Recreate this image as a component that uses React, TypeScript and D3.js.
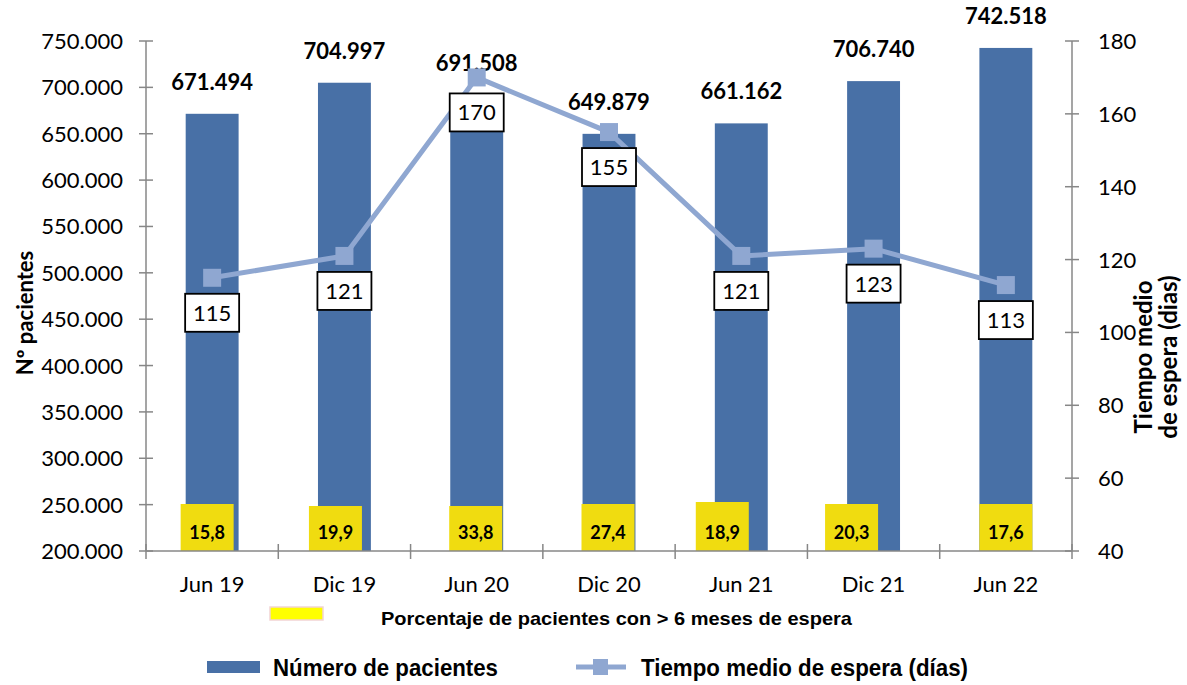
import React from "react";
import * as d3 from "d3";

const categories = ["Jun 19", "Dic 19", "Jun 20", "Dic 20", "Jun 21", "Dic 21", "Jun 22"];
const patients = [671494, 704997, 691508, 649879, 661162, 706740, 742518];
const waitDays = [115, 121, 170, 155, 121, 123, 113];
const pctOver6 = ["15,8", "19,9", "33,8", "27,4", "18,9", "20,3", "17,6"];
const leftTicks = [200000, 250000, 300000, 350000, 400000, 450000, 500000, 550000, 600000, 650000, 700000, 750000];
const rightTicks = [40, 60, 80, 100, 120, 140, 160, 180];

// layout-only nudges for the manually placed yellow annotation boxes (px)
const pctNudge = [-5, -9, -1, -1, -19, -22, 0];
const pctBoxTop = [504, 506, 506, 504, 502, 504, 504];

const W = 1187;
const H = 685;
const X0 = 146;
const X1 = 1072;
const Y0 = 551;
const Y1 = 41;

const BAR = "#4870A6";
const LINE = "#8FA7D1";
const YEL = "#F0DC10";
const AXIS = "#878787";
const FONT = "Lato, 'Open Sans', sans-serif";
const NARROW = "'Liberation Sans Narrow', 'Arial Narrow', 'Liberation Sans', Arial, sans-serif";

const fmtThousands = (v: number) => d3.format(",")(v).replace(/,/g, ".");

export default function App() {
  const x = d3.scaleBand<string>().domain(categories).range([X0, X1]).padding(0);
  const bw = x.bandwidth() * 0.4;
  const yL = d3.scaleLinear().domain([200000, 750000]).range([Y0, Y1]);
  const yR = d3.scaleLinear().domain([40, 180]).range([Y0, Y1]);
  const cx = (c: string) => (x(c) as number) + x.bandwidth() / 2;

  const lineGen = d3
    .line<number>()
    .x((_, i) => cx(categories[i]))
    .y((d) => yR(d));

  const bounds = categories.map((c) => x(c) as number).concat([X1]);

  return (
    <svg width={W} height={H} style={{ position: "absolute", left: 0, top: 0, background: "#fff" }}>
      {/* bars */}
      {patients.map((v, i) => (
        <rect key={"b" + i} x={cx(categories[i]) - bw / 2} y={yL(v)} width={bw} height={Y0 - yL(v)} fill={BAR} />
      ))}
      {/* bar value labels */}
      {patients.map((v, i) => (
        <text
          key={"bl" + i}
          x={cx(categories[i])}
          y={yL(v) - 24}
          textAnchor="middle"
          fontFamily={FONT}
          fontWeight="bold"
          fontSize={22}
          fill="#000"
        >
          {fmtThousands(v)}
        </text>
      ))}
      {/* yellow percent boxes */}
      {pctOver6.map((p, i) => {
        const c = cx(categories[i]) + pctNudge[i];
        return (
          <g key={"y" + i}>
            <rect x={c - 26.5} y={pctBoxTop[i]} width={53} height={Y0 - pctBoxTop[i]} fill={YEL} />
            <text x={c} y={539} textAnchor="middle" fontFamily={FONT} fontWeight="bold" fontSize={18} fill="#000">
              {p}
            </text>
          </g>
        );
      })}
      {/* axes */}
      <line x1={X0} y1={Y1} x2={X0} y2={Y0} stroke={AXIS} strokeWidth={1.5} />
      <line x1={X1} y1={Y1} x2={X1} y2={Y0} stroke={AXIS} strokeWidth={1.5} />
      <line x1={X0} y1={Y0} x2={X1} y2={Y0} stroke={AXIS} strokeWidth={1.5} />
      {leftTicks.map((t) => (
        <g key={"lt" + t}>
          <line x1={X0 - 7} x2={X0 + 7} y1={yL(t)} y2={yL(t)} stroke={AXIS} strokeWidth={1.5} />
          <text x={123} y={yL(t) + 8} textAnchor="end" fontFamily={FONT} fontSize={22} fill="#000">
            {fmtThousands(t)}
          </text>
        </g>
      ))}
      {rightTicks.map((t) => (
        <g key={"rt" + t}>
          <line x1={X1 - 7} x2={X1 + 7} y1={yR(t)} y2={yR(t)} stroke={AXIS} strokeWidth={1.5} />
          <text x={1098} y={yR(t) + 8} textAnchor="start" fontFamily={FONT} fontSize={22} fill="#000">
            {t}
          </text>
        </g>
      ))}
      {bounds.map((b, i) => (
        <line key={"xt" + i} x1={b} x2={b} y1={Y0 - 7} y2={Y0 + 8} stroke={AXIS} strokeWidth={1.5} />
      ))}
      {categories.map((c) => (
        <text key={"xl" + c} x={cx(c)} y={592} textAnchor="middle" fontFamily={FONT} fontSize={22} fill="#000">
          {c}
        </text>
      ))}
      {/* line series */}
      <path d={lineGen(waitDays) || ""} fill="none" stroke={LINE} strokeWidth={5} strokeLinejoin="round" />
      {waitDays.map((v, i) => (
        <rect key={"m" + i} x={cx(categories[i]) - 9} y={yR(v) - 9} width={18} height={18} fill={LINE} />
      ))}
      {waitDays.map((v, i) => {
        const c = cx(categories[i]);
        const yy = yR(v) + 35;
        return (
          <g key={"wl" + i}>
            <rect x={c - 27} y={yy - 19} width={54} height={38} fill="#fff" stroke="#000" strokeWidth={1.8} />
            <text x={c} y={yy + 8} textAnchor="middle" fontFamily={FONT} fontSize={22} fill="#000">
              {v}
            </text>
          </g>
        );
      })}
      {/* axis titles */}
      <text
        transform={`translate(33,313) rotate(-90)`}
        textAnchor="middle"
        fontFamily={FONT}
        fontWeight="bold"
        fontSize={22}
        fill="#000"
      >
        Nº pacientes
      </text>
      <text
        transform={`translate(1152,357) rotate(-90)`}
        textAnchor="middle"
        fontFamily={FONT}
        fontWeight="bold"
        fontSize={24}
        fill="#000"
      >
        Tiempo medio
      </text>
      <text
        transform={`translate(1177,357) rotate(-90)`}
        textAnchor="middle"
        fontFamily={FONT}
        fontWeight="bold"
        fontSize={24}
        fill="#000"
      >
        de espera (dias)
      </text>
      {/* legend: percent */}
      <rect x={270} y={607} width={53} height={13} fill="#FFFF00" stroke="#F2D4D4" strokeWidth={1.5} />
      <text
        x={381}
        y={625}
        fontFamily={NARROW}
        fontWeight="bold"
        fontSize={19}
        textLength={471}
        lengthAdjust="spacingAndGlyphs"
        fill="#000"
      >
        Porcentaje de pacientes con &gt; 6 meses de espera
      </text>
      {/* legend: bottom */}
      <rect x={207} y={661} width={53} height={12} fill={BAR} />
      <text
        x={273}
        y={676}
        fontFamily={NARROW}
        fontWeight="bold"
        fontSize={24}
        textLength={225}
        lengthAdjust="spacingAndGlyphs"
        fill="#000"
      >
        Número de pacientes
      </text>
      <line x1={576} x2={626} y1={667} y2={667} stroke={LINE} strokeWidth={5} />
      <rect x={593} y={659} width={15} height={16} fill={LINE} />
      <text
        x={641}
        y={676}
        fontFamily={NARROW}
        fontWeight="bold"
        fontSize={24}
        textLength={327}
        lengthAdjust="spacingAndGlyphs"
        fill="#000"
      >
        Tiempo medio de espera (días)
      </text>
    </svg>
  );
}
